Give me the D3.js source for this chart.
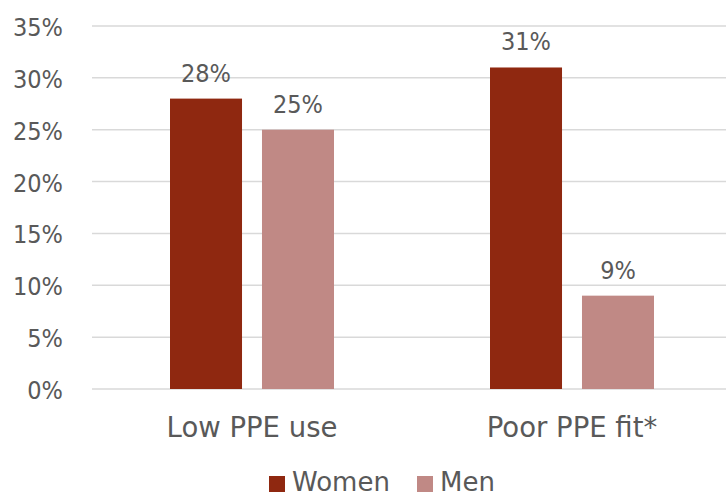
<!DOCTYPE html>
<html>
<head>
<meta charset="utf-8">
<script src="https://cdn.jsdelivr.net/npm/d3@7"></script>
<style>
  body { margin: 0; background: #fff; }
  text { font-family: "DejaVu Sans", sans-serif; fill: #595959; }
  .num { font-family: "DejaVu Sans Condensed", "DejaVu Sans", sans-serif; font-stretch: condensed; }
</style>
</head>
<body>
<script>
// chart data
const categories = ["Low PPE use", "Poor PPE fit*"];
const series = ["Women", "Men"];
const women = [28, 31];
const men = [25, 9];
const yTicks = [0, 5, 10, 15, 20, 25, 30, 35];
const colors = ["#8f2810", "#c08985"];

const width = 726;
const height = 496;

const svg = d3.select("body").append("svg")
  .attr("width", width)
  .attr("height", height);

// scales
const x0 = d3.scaleBand()
  .domain(categories)
  .range([92, 732]);

const x1 = d3.scaleBand()
  .domain(series)
  .range([78, 242])
  .paddingInner(0.217);

const y = d3.scaleLinear()
  .domain([0, 35])
  .range([389, 26]);

// gridlines
svg.append("g")
  .selectAll("line")
  .data(yTicks)
  .enter().append("line")
  .attr("x1", 92)
  .attr("x2", width)
  .attr("y1", d => y(d))
  .attr("y2", d => y(d))
  .attr("stroke", "#d9d9d9")
  .attr("stroke-width", 1.5);

// y axis labels
svg.append("g")
  .selectAll("text")
  .data(yTicks)
  .enter().append("text")
  .attr("class", "num")
  .attr("x", 63)
  .attr("y", d => y(d) + 10)
  .attr("text-anchor", "end")
  .style("font-size", "25px")
  .text(d => d + "%");

// bars
const rows = categories.map((c, i) => ({ cat: c, values: [women[i], men[i]] }));

const groups = svg.selectAll("g.cat")
  .data(rows)
  .enter().append("g")
  .attr("class", "cat")
  .attr("transform", d => `translate(${x0(d.cat)},0)`);

groups.selectAll("rect")
  .data(d => d.values.map((v, j) => ({ s: series[j], v: v, j: j })))
  .enter().append("rect")
  .attr("x", d => x1(d.s))
  .attr("y", d => y(d.v))
  .attr("width", x1.bandwidth())
  .attr("height", d => y(0) - y(d.v))
  .attr("fill", d => colors[d.j]);

groups.selectAll("text.val")
  .data(d => d.values.map((v, j) => ({ s: series[j], v: v })))
  .enter().append("text")
  .attr("class", "val num")
  .attr("x", d => x1(d.s) + x1.bandwidth() / 2)
  .attr("y", d => y(d.v) - 17)
  .attr("text-anchor", "middle")
  .style("font-size", "25px")
  .text(d => d.v + "%");

// category labels
svg.append("g")
  .selectAll("text")
  .data(categories)
  .enter().append("text")
  .attr("x", d => x0(d) + 160)
  .attr("y", 437)
  .attr("text-anchor", "middle")
  .style("font-size", "27.5px")
  .text(d => d);

// legend
const legendX = [269, 417];
const legend = svg.append("g")
  .selectAll("g")
  .data(series)
  .enter().append("g")
  .attr("transform", (d, i) => `translate(${legendX[i]},0)`);

legend.append("rect")
  .attr("x", 0)
  .attr("y", 476)
  .attr("width", 16)
  .attr("height", 16)
  .attr("fill", (d, i) => colors[i]);

legend.append("text")
  .attr("x", 23)
  .attr("y", 491)
  .style("font-size", "26px")
  .text(d => d);
</script>
</body>
</html>
